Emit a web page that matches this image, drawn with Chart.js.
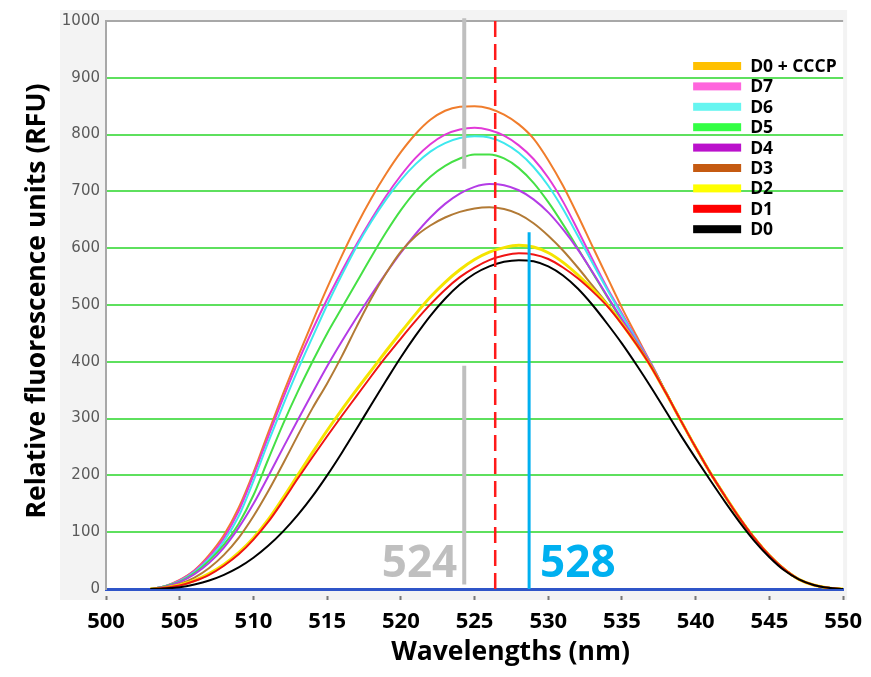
<!DOCTYPE html>
<html>
<head>
<meta charset="utf-8">
<script src="https://cdn.jsdelivr.net/npm/chart.js@4.4.1/dist/chart.umd.min.js"></script>
<style>
  html, body { margin: 0; padding: 0; background: #fff; }
</style>
</head>
<body>
<canvas id="chartRFU" width="871" height="677"></canvas>
<script>
// ---------------- DATA ----------------
// wavelengths (nm), one point per nm
const wavelengths = [503,504,505,506,507,508,509,510,511,512,513,514,515,516,517,518,519,520,521,522,523,524,525,526,
  527,528,529,530,531,532,533,534,535,536,537,538,539,540,541,542,543,544,545,546,547,548,549,550];

const seriesNames = ['D0', 'D1', 'D2', 'D3', 'D4', 'D5', 'D6', 'D7', 'D0 + CCCP'];

const d0 = [0,1,3,8,15,25,38,55,76,101,130,163,200,240,282,325,367,408,446,481,511,536,555,568,
  576,579,577,568,552,529,500,467,432,394,354,312,270,230,191,153,117,84,56,33,17,7,2,0];
const d1 = [0,2,6,14,25,41,61,87,118,155,194,232,269,305,340,375,409,441,472,501,527,549,566,579,
  587,591,589,581,566,547,524,498,466,430,390,344,296,249,204,163,124,89,59,35,17,7,2,0];
const d2 = [0,2,7,15,27,43,64,90,122,160,200,240,279,316,351,385,419,452,484,514,540,562,580,593,
  601,605,602,592,575,553,528,500,467,430,390,344,296,249,204,163,124,89,59,35,17,7,2,0];
const d3 = [0,3,9,20,37,60,90,128,172,220,270,318,362,410,462,512,556,594,621,640,654,664,670,672,
  669,660,644,622,596,566,534,502,468,432,393,345,296,249,204,163,124,89,59,35,17,7,2,0];
const d4 = [0,4,12,26,46,73,108,150,198,248,297,345,392,436,478,518,556,592,625,654,678,696,708,713,
  711,702,686,663,633,598,558,516,475,435,394,345,296,249,204,163,124,89,59,35,17,7,2,0];
const d5 = [0,5,13,28,50,78,115,165,228,290,347,400,450,495,540,585,628,667,700,726,745,758,765,765,
  758,741,715,681,642,600,557,514,472,432,392,345,296,249,204,163,124,89,59,35,17,7,2,0];
const d6 = [0,5,14,30,53,84,128,190,258,323,385,443,500,553,603,647,686,720,748,770,785,794,797,795,
  785,768,743,710,669,622,574,527,482,438,395,345,296,249,204,163,124,89,59,35,17,7,2,0];
const d7 = [0,5,15,32,57,90,137,200,268,335,398,456,510,560,607,651,692,728,759,783,800,809,812,808,
  798,781,757,724,682,632,580,530,485,440,396,345,296,249,204,163,124,89,59,35,17,7,2,0];
const d0cccp = [0,5,16,33,60,95,143,205,275,343,408,470,530,587,640,688,731,769,801,826,842,849,850,846,
  835,818,793,755,710,658,603,549,495,445,395,345,296,249,204,163,124,89,59,35,17,7,2,0];

const lineColors   = ['#000000', '#f01414', '#f5e400', '#b27a35', '#b43ce6', '#45e045', '#3ee8ee', '#e23ad8', '#f07d2c'];
const legendColors = ['#000000', '#ff0000', '#ffff00', '#c55a11', '#bb11cc', '#33ff44', '#66f5f0', '#ff66dd', '#ffc000'];

const xTicks = [500, 505, 510, 515, 520, 525, 530, 535, 540, 545, 550];
const yTicks = [0, 100, 200, 300, 400, 500, 600, 700, 800, 900, 1000];

// annotation marks (nm / RFU)
const peakGray = 524.3;
const peakBlue = 528.7;
const redDash = 526.4;

// ---------------- BUILD DATASETS ----------------
const allSeries = [d0, d1, d2, d3, d4, d5, d6, d7, d0cccp];
const datasets = allSeries.map((vals, i) => ({
  label: seriesNames[i],
  data: wavelengths.map((w, j) => ({ x: w, y: vals[j] })),
  borderColor: lineColors[i],
  backgroundColor: lineColors[i],
  borderWidth: i == 2 ? 3 : 2,
  pointRadius: 0,
  fill: false,
  cubicInterpolationMode: 'monotone'
}));

// ---------------- PLUGIN : fond, repères, légende, titres ----------------
const decor = {
  id: 'decor',
  beforeDraw(chart) {
    const { ctx, chartArea: a } = chart;
    ctx.save();
    ctx.fillStyle = '#ffffff';
    ctx.fillRect(0, 0, chart.width, chart.height);
    ctx.fillStyle = '#f3f3f3';
    ctx.fillRect(a.left - 46, a.top - 11, a.right - a.left + 50, a.bottom - a.top + 22);
    ctx.fillStyle = '#ffffff';
    ctx.fillRect(a.left, a.top, a.right - a.left, a.bottom - a.top);
    ctx.restore();
  },
  afterDatasetsDraw(chart) {
    const { ctx, scales: { x, y } } = chart;
    ctx.save();
    // gray marker (524)
    ctx.strokeStyle = '#bfbfbf';
    ctx.lineWidth = 4;
    ctx.beginPath();
    ctx.moveTo(x.getPixelForValue(peakGray), y.getPixelForValue(1005));
    ctx.lineTo(x.getPixelForValue(peakGray), y.getPixelForValue(740));
    ctx.moveTo(x.getPixelForValue(peakGray), y.getPixelForValue(393));
    ctx.lineTo(x.getPixelForValue(peakGray), y.getPixelForValue(8));
    ctx.stroke();
    // red dashed
    ctx.strokeStyle = '#ff1a1a';
    ctx.lineWidth = 2.5;
    ctx.setLineDash([16, 7]);
    ctx.beginPath();
    ctx.moveTo(x.getPixelForValue(redDash), y.getPixelForValue(1000));
    ctx.lineTo(x.getPixelForValue(redDash), y.getPixelForValue(0));
    ctx.stroke();
    ctx.setLineDash([]);
    // blue marker (528)
    ctx.strokeStyle = '#00b0f0';
    ctx.lineWidth = 3;
    ctx.beginPath();
    ctx.moveTo(x.getPixelForValue(peakBlue), y.getPixelForValue(628));
    ctx.lineTo(x.getPixelForValue(peakBlue), y.getPixelForValue(0));
    ctx.stroke();
    // labels
    ctx.font = 'bold 44px "Open Sans"';
    ctx.textBaseline = 'alphabetic';
    ctx.fillStyle = '#bfbfbf';
    ctx.textAlign = 'right';
    ctx.fillText('524', x.getPixelForValue(peakGray) - 7, y.getPixelForValue(21));
    ctx.fillStyle = '#00b0f0';
    ctx.textAlign = 'left';
    ctx.fillText('528', x.getPixelForValue(peakBlue) + 11, y.getPixelForValue(21));
    ctx.restore();
  },
  afterDraw(chart) {
    const { ctx, chartArea: a } = chart;
    ctx.save();
    // legend (ordre inverse : D0 + CCCP en haut)
    ctx.font = 'bold 17.5px "Open Sans"';
    ctx.textBaseline = 'middle';
    ctx.textAlign = 'left';
    for (let k = 0; k < seriesNames.length; k++) {
      const i = seriesNames.length - 1 - k;
      const yy = a.top + 45 + k * 20.4;
      ctx.fillStyle = legendColors[i];
      ctx.fillRect(a.right - 150, yy - 4, 48, 8);
      ctx.fillStyle = '#000';
      ctx.fillText(seriesNames[i], a.right - 93, yy + 1);
    }
    // axis titles
    ctx.fillStyle = '#000';
    ctx.textAlign = 'center';
    ctx.font = 'bold 26.5px "Open Sans"';
    ctx.fillText('Wavelengths (nm)', (a.left + a.right) / 2 + 36, 652);
    ctx.translate(37, (a.top + a.bottom) / 2 - 4);
    ctx.rotate(-Math.PI / 2);
    ctx.font = 'bold 26.5px "Open Sans"';
    ctx.fillText('Relative fluorescence units (RFU)', 0, 0);
    ctx.restore();
  }
};

// ---------------- CHART ----------------
const chartRFU = new Chart(document.getElementById('chartRFU'), {
  type: 'line',
  data: { datasets: datasets },
  options: {
    responsive: false,
    animation: false,
    layout: { padding: { left: 0, right: 25, top: 21, bottom: 0 } },
    plugins: { legend: { display: false }, tooltip: { enabled: false } },
    scales: {
      x: {
        type: 'linear',
        min: 500, max: 550,
        afterFit: (s) => { s.height = 88; },
        afterBuildTicks: (s) => { s.ticks = xTicks.map(v => ({ value: v })); },
        border: { color: '#2f55c8', width: 3 },
        grid: {
          drawOnChartArea: false,
          drawTicks: true,
          tickLength: 11,
          tickWidth: 2,
          tickColor: '#777',
          tickBorderDash: [0, 5, 6, 100]
        },
        ticks: { color: '#000', padding: 9, maxRotation: 0, font: { family: 'Open Sans', weight: 'bold', size: 22 },
          callback: (v) => String(v) }
      },
      y: {
        min: 0, max: 1000,
        afterFit: (s) => { s.width = 106; },
        afterBuildTicks: (s) => { s.ticks = yTicks.map(v => ({ value: v })); },
        border: { color: '#a8a8a8', width: 2 },
        grid: {
          drawTicks: false,
          lineWidth: 2,
          color: (c) => c.tick.value === 1000 ? '#a8a8a8' : (c.tick.value === 0 ? 'rgba(0,0,0,0)' : '#5ee05e')
        },
        ticks: { color: '#5a5a5a', padding: 6, font: { family: 'DejaVu Sans', size: 15 },
          callback: (v) => String(v) }
      }
    }
  },
  plugins: [decor]
});
</script>
</body>
</html>
